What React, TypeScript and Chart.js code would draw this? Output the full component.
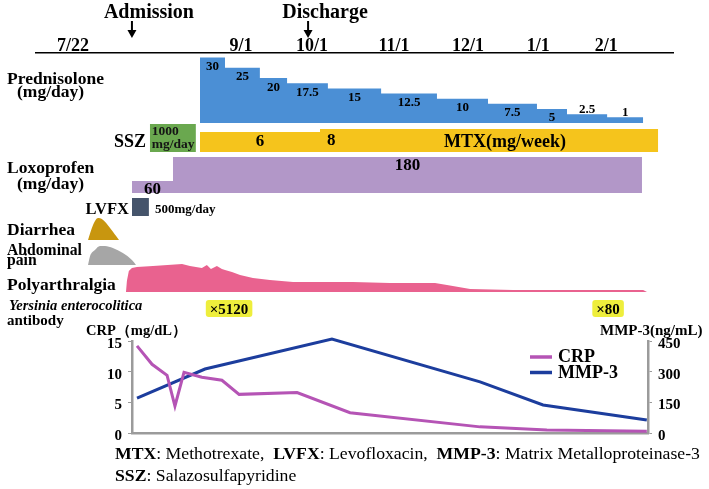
import React, { useEffect, useRef } from 'react';
import { Chart, registerables } from 'chart.js';

Chart.register(...registerables);

const SERIF = "'Liberation Serif', 'Times New Roman', Times, serif";

// ---------- timeline (schematic day index, 0 = admission) ----------
const dateTickLabels = ['7/22', '9/1', '10/1', '11/1', '12/1', '1/1', '2/1'];
const dateTickDays = [-24.7, 45.7, 75.4, 109.8, 140.8, 170.2, 198.7];
const eventLabels = ['Admission', 'Discharge'];
const eventDays = [0, 73.8];

// Prednisolone (mg/day)
const predStartDays = [28.5, 39, 53.6, 65, 82.1, 104.4, 127.8, 149.2, 169.7, 182.3, 199.1];
const predDoses = [30, 25, 20, 17.5, 15, 12.5, 10, 7.5, 5, 2.5, 1];
const predEndDay = 214.2;

// SSZ (mg/day)
const sszDays = [7.5, 26.8];
const sszDose = 1000;

// MTX (mg/week)
const mtxStartDays = [28.5, 78.8];
const mtxDoses = [6, 8];
const mtxEndDay = 220.5;

// Loxoprofen (mg/day)
const loxStartDays = [0, 17.2];
const loxDoses = [60, 180];
const loxEndDay = 213.7;

// LVFX (mg/day)
const lvfxDays = [0, 7.1];
const lvfxDose = 500;

// Symptoms (relative intensity 0-10)
const diarrheaDays = [-18.4, -16.3, -14.2, -12.6, -5.4];
const diarrheaLevel = [0, 6.8, 10, 9.5, 0];
const abdominalDays = [-18.4, -17.6, -15.5, -13.4, -11.3, -8.0, -3.8, 0, 1.7];
const abdominalLevel = [0, 4.5, 7.9, 10, 10, 8.9, 6.3, 2.6, 0];
const polyDays = [-2.5, -2.1, -1.3, 0, 2.1, 8.8, 21.0, 24.3, 29.3, 31.4, 33.1, 35.6, 37.7, 39.0, 41.9, 45.3, 50.7, 57.8, 67.5, 92.6, 108.1, 127.0, 132.0, 141.7, 159.7, 214.2, 215.8];
const polyLevel = [0, 4, 7.5, 8.6, 8.9, 9.3, 10, 9.3, 8.6, 9.6, 8.2, 9.3, 8.2, 7.9, 7.1, 6.1, 5.0, 4.3, 3.6, 3.6, 3.2, 3.2, 2.5, 1.1, 0.7, 0.7, 0];

// Yersinia enterocolitica antibody titers
const yersiniaDays = [40.7, 199.5];
const yersiniaTiters = ['×5120', '×80'];

// CRP / MMP-3
const crpDays = [2.1, 8.4, 14.7, 18.0, 21.8, 29.3, 37.7, 44.9, 69.2, 91.4, 145.9, 173.9, 215.8];
const crpValues = [14.2, 11.2, 9.4, 4.4, 9.9, 9.1, 8.6, 6.3, 6.6, 3.3, 1.0, 0.5, 0.3];
const mmpDays = [2.1, 30.6, 83.8, 145.9, 172.3, 215.8];
const mmpValues = [171, 313, 460, 250, 137, 64];
const crpTicks = [0, 5, 10, 15];
const mmpTicks = [0, 150, 300, 450];

// ---------- helpers ----------
const TOP_AREA_TOP = 53;
const TOP_AREA_BOTTOM = 320;
const PRED_BASE = -1.8;
const MTX_BASE = -7.33;

// hidden row axis: value baseValue sits at pixel basePx, pxPerUnit pixels per unit
function rowScale(basePx: number, baseValue: number, pxPerUnit: number) {
  const min = baseValue - (TOP_AREA_BOTTOM - basePx) / pxPerUnit;
  const max = min + (TOP_AREA_BOTTOM - TOP_AREA_TOP) / pxPerUnit;
  return { type: 'linear', display: false, min, max };
}
function stepPoints(starts: number[], values: number[], end: number) {
  const pts = starts.map((x, i) => ({ x, y: values[i] }));
  pts.push({ x: end, y: values[values.length - 1] });
  return pts;
}
function xy(xs: number[], ys: number[]) {
  return xs.map((x, i) => ({ x, y: ys[i] }));
}
function area(label: string, data: any[], color: string, yAxisID: string, extra: any = {}) {
  return {
    label, data, yAxisID,
    backgroundColor: color, borderColor: color, borderWidth: 0,
    pointRadius: 0, fill: 'origin', ...extra,
  };
}

const timelinePlugin = {
  id: 'timelineAnnotations',
  afterDraw(chart: any) {
    const { ctx } = chart;
    const xs = chart.scales.x;
    const px = (d: number) => xs.getPixelForValue(d);
    ctx.save();
    ctx.fillStyle = '#000';
    ctx.strokeStyle = '#000';
    ctx.textBaseline = 'alphabetic';

    // Admission / Discharge
    eventDays.forEach((d, i) => {
      const x = px(d);
      ctx.font = `bold 20px ${SERIF}`;
      ctx.textAlign = 'center';
      ctx.fillText(eventLabels[i], x + 17, 18);
      ctx.lineWidth = 2;
      ctx.beginPath(); ctx.moveTo(x, 21); ctx.lineTo(x, 31); ctx.stroke();
      ctx.beginPath(); ctx.moveTo(x - 4.5, 30); ctx.lineTo(x + 4.5, 30); ctx.lineTo(x, 38); ctx.closePath(); ctx.fill();
    });

    // Row labels
    const rows: [string, number, number, string, CanvasTextAlign][] = [
      ['Prednisolone', 7, 84, `bold 17.5px ${SERIF}`, 'left'],
      ['(mg/day)', 17, 97, `bold 17.5px ${SERIF}`, 'left'],
      ['SSZ', 146, 146.5, `bold 18px ${SERIF}`, 'right'],
      ['Loxoprofen', 7, 173, `bold 17.5px ${SERIF}`, 'left'],
      ['(mg/day)', 17, 189, `bold 17.5px ${SERIF}`, 'left'],
      ['LVFX', 129, 214, `bold 16.5px ${SERIF}`, 'right'],
      ['Diarrhea', 7, 235, `bold 17.5px ${SERIF}`, 'left'],
      ['Abdominal', 7, 254.5, `bold 15.7px ${SERIF}`, 'left'],
      ['pain', 7, 264.5, `bold 15.7px ${SERIF}`, 'left'],
      ['Polyarthralgia', 7, 290, `bold 17.5px ${SERIF}`, 'left'],
      ['Yersinia enterocolitica', 9, 310, `italic bold 14.5px ${SERIF}`, 'left'],
      ['antibody', 7, 325, `bold 15px ${SERIF}`, 'left'],
    ];
    rows.forEach(([t, x, y, f, a]) => { ctx.font = f; ctx.textAlign = a; ctx.fillText(t, x, y); });

    // Prednisolone doses
    const yP = chart.scales.yPred;
    ctx.font = `bold 13px ${SERIF}`;
    ctx.textAlign = 'center';
    predDoses.forEach((dose, i) => {
      const x0 = px(predStartDays[i]);
      const x1 = px(i + 1 < predStartDays.length ? predStartDays[i + 1] : predEndDay);
      const top = yP.getPixelForValue(dose);
      ctx.fillText(String(dose), (x0 + x1) / 2, dose >= 5 ? top + 12.5 : top - 1);
    });

    // SSZ
    const ySSZ = chart.scales.ySSZ;
    const sszTop = ySSZ.getPixelForValue(sszDose);
    ctx.font = `bold 13.5px ${SERIF}`;
    ctx.textAlign = 'left';
    ctx.fillStyle = '#151515';
    ctx.fillText(String(sszDose), px(sszDays[0]) + 2, sszTop + 11);
    ctx.fillText('mg/day', px(sszDays[0]) + 2, sszTop + 23.5);
    ctx.fillStyle = '#000';

    // MTX
    const yM = chart.scales.yMTX;
    const mtxBottom = yM.getPixelForValue(MTX_BASE);
    ctx.font = `bold 17px ${SERIF}`;
    mtxDoses.forEach((dose, i) => {
      const x0 = px(mtxStartDays[i]);
      const x1 = px(i + 1 < mtxStartDays.length ? mtxStartDays[i + 1] : mtxEndDay);
      if (i === 0) { ctx.textAlign = 'center'; ctx.fillText(String(dose), (x0 + x1) / 2, mtxBottom - 6); }
      else { ctx.textAlign = 'left'; ctx.fillText(String(dose), x0 + 7, mtxBottom - 7); }
    });
    ctx.font = `bold 18px ${SERIF}`;
    ctx.textAlign = 'center';
    ctx.fillText('MTX(mg/week)', px(156.3), mtxBottom - 5);

    // Loxoprofen
    const yL = chart.scales.yLox;
    ctx.font = `bold 17px ${SERIF}`;
    loxDoses.forEach((dose, i) => {
      const x0 = px(loxStartDays[i]);
      const x1 = px(i + 1 < loxStartDays.length ? loxStartDays[i + 1] : loxEndDay);
      ctx.fillText(String(dose), (x0 + x1) / 2, yL.getPixelForValue(dose) + 13);
    });

    // LVFX
    const yV = chart.scales.yLVFX;
    ctx.font = `bold 13px ${SERIF}`;
    ctx.textAlign = 'left';
    ctx.fillText(`${lvfxDose}mg/day`, px(lvfxDays[1]) + 6, yV.getPixelForValue(0) - 3);

    // Yersinia titers
    ctx.font = `bold 15px ${SERIF}`;
    yersiniaDays.forEach((d, i) => {
      const x = px(d);
      const t = yersiniaTiters[i];
      const w = ctx.measureText(t).width + 8;
      ctx.fillStyle = '#eeee3c';
      ctx.beginPath();
      if (ctx.roundRect) ctx.roundRect(x - w / 2, 300, w, 17, 3); else ctx.rect(x - w / 2, 300, w, 17);
      ctx.fill();
      ctx.fillStyle = '#000';
      ctx.textAlign = 'center';
      ctx.fillText(t, x, 313.5);
    });
    ctx.restore();
  },
};

const labPlugin = {
  id: 'labAnnotations',
  afterDraw(chart: any) {
    const { ctx } = chart;
    ctx.save();
    ctx.fillStyle = '#000';
    ctx.textBaseline = 'alphabetic';
    ctx.textAlign = 'left';
    ctx.font = `bold 14.5px ${SERIF}`;
    ctx.fillText('CRP（mg/dL）', 86, 10);
    ctx.font = `bold 15px ${SERIF}`;
    ctx.fillText('MMP-3(ng/mL)', 600, 10);
    chart.data.datasets.forEach((ds: any, i: number) => {
      const y = 32 + i * 15.5;
      ctx.strokeStyle = ds.borderColor;
      ctx.lineWidth = 3.5;
      ctx.beginPath(); ctx.moveTo(530, y); ctx.lineTo(552, y); ctx.stroke();
      ctx.font = `bold 18px ${SERIF}`;
      ctx.fillStyle = '#000';
      ctx.fillText(ds.label, 558, y + 5);
    });
    ctx.restore();
  },
};

export default function App() {
  const topRef = useRef<HTMLCanvasElement>(null);
  const botRef = useRef<HTMLCanvasElement>(null);

  useEffect(() => {
    document.body.style.margin = '0';
    const tickFont = { family: SERIF, size: 18, weight: 'bold' as const };

    const top = new Chart(topRef.current!, {
      type: 'line',
      data: {
        datasets: [
          area('Prednisolone', stepPoints(predStartDays, predDoses, predEndDay), '#4b8fd5', 'yPred', { stepped: 'before', fill: { value: PRED_BASE } }),
          area('SSZ', stepPoints([sszDays[0]], [sszDose], sszDays[1]), '#6aa84f', 'ySSZ', { stepped: 'before' }),
          area('MTX', stepPoints(mtxStartDays, mtxDoses, mtxEndDay), '#f5c41c', 'yMTX', { stepped: 'before', fill: { value: MTX_BASE } }),
          area('Loxoprofen', stepPoints(loxStartDays, loxDoses, loxEndDay), '#b297c8', 'yLox', { stepped: 'before' }),
          area('LVFX', stepPoints([lvfxDays[0]], [lvfxDose], lvfxDays[1]), '#45546b', 'yLVFX', { stepped: 'before' }),
          area('Diarrhea', xy(diarrheaDays, diarrheaLevel), '#c8960f', 'yDia', { cubicInterpolationMode: 'monotone' }),
          area('Abdominal pain', xy(abdominalDays, abdominalLevel), '#a6a6a6', 'yAbd', { cubicInterpolationMode: 'monotone' }),
          area('Polyarthralgia', xy(polyDays, polyLevel), '#e9628f', 'yPoly'),
        ] as any,
      },
      options: {
        responsive: false,
        animation: false,
        events: [],
        layout: { padding: { left: 36, right: 36, top: 0, bottom: 335 - TOP_AREA_BOTTOM } },
        plugins: { legend: { display: false }, tooltip: { enabled: false } },
        scales: {
          x: {
            type: 'linear', position: 'top', min: -40.2, max: 226.7,
            afterBuildTicks: (s: any) => { s.ticks = dateTickDays.map((v) => ({ value: v })); },
            afterFit: (s: any) => { s.height = TOP_AREA_TOP; },
            ticks: {
              autoSkip: false, maxRotation: 0, minRotation: 0, padding: -4, color: '#000', font: tickFont,
              callback: (_v: any, i: number) => dateTickLabels[i],
            },
            grid: { display: false, drawTicks: false },
            border: { display: true, color: '#000', width: 1.5 },
          },
          yPred: rowScale(123, PRED_BASE, 2.06) as any,
          ySSZ: rowScale(152, 0, 28 / sszDose) as any,
          yMTX: rowScale(152, MTX_BASE, 1.5) as any,
          yLox: rowScale(193, 0, 0.2) as any,
          yLVFX: rowScale(216, 0, 18 / lvfxDose) as any,
          yDia: rowScale(240, 0, 2.2) as any,
          yAbd: rowScale(265, 0, 1.9) as any,
          yPoly: rowScale(292, 0, 2.8) as any,
        },
      },
      plugins: [timelinePlugin],
    });

    const gray = '#9b9b9b';
    const labTickFont = { family: SERIF, size: 15, weight: 'bold' as const };
    const bot = new Chart(botRef.current!, {
      type: 'line',
      data: {
        datasets: [
          { label: 'CRP', data: xy(crpDays, crpValues), yAxisID: 'yCRP', borderColor: '#b554b5', backgroundColor: '#b554b5', borderWidth: 3, pointRadius: 0, tension: 0, clip: false },
          { label: 'MMP-3', data: xy(mmpDays, mmpValues), yAxisID: 'yMMP', borderColor: '#1c3d9d', backgroundColor: '#1c3d9d', borderWidth: 3, pointRadius: 0, tension: 0, clip: false },
        ] as any,
      },
      options: {
        responsive: false,
        animation: false,
        events: [],
        layout: { padding: { top: 16, left: 0, right: 0, bottom: 0 } },
        plugins: { legend: { display: false }, tooltip: { enabled: false } },
        scales: {
          x: {
            type: 'linear', min: 0, max: 216.3,
            ticks: { display: false },
            grid: { display: false, drawTicks: false },
            border: { display: true, color: gray, width: 2.5 },
            afterFit: (s: any) => { s.height = 56; },
          },
          yCRP: {
            type: 'linear', position: 'left', min: 0, max: 15,
            afterBuildTicks: (s: any) => { s.ticks = crpTicks.map((v) => ({ value: v })); },
            ticks: { color: '#000', font: labTickFont, padding: 6, labelOffset: 3 },
            grid: { display: true, drawOnChartArea: false, drawTicks: true, tickLength: 4, color: gray },
            border: { display: true, color: gray, width: 2.5 },
            afterFit: (s: any) => { s.width = 132; },
          },
          yMMP: {
            type: 'linear', position: 'right', min: 0, max: 450,
            afterBuildTicks: (s: any) => { s.ticks = mmpTicks.map((v) => ({ value: v })); },
            ticks: { color: '#000', font: labTickFont, padding: 6, labelOffset: 3 },
            grid: { display: true, drawOnChartArea: false, drawTicks: true, tickLength: 4, color: gray },
            border: { display: true, color: gray, width: 2.5 },
            afterFit: (s: any) => { s.width = 61; },
          },
        } as any,
      },
      plugins: [labPlugin],
    });

    return () => { top.destroy(); bot.destroy(); };
  }, []);

  return (
    <div style={{ position: 'relative', width: 709, height: 489, background: '#fff', overflow: 'hidden' }}>
      <canvas ref={topRef} width={709} height={335} style={{ position: 'absolute', left: 0, top: 0 }} />
      <canvas ref={botRef} width={709} height={164} style={{ position: 'absolute', left: 0, top: 325 }} />
      <div style={{ position: 'absolute', left: 115, top: 441.5, font: `17.7px/22.5px ${SERIF}`, whiteSpace: 'nowrap', color: '#000' }}>
        <b>MTX</b>: Methotrexate,&nbsp; <b>LVFX</b>: Levofloxacin,&nbsp; <b>MMP-3</b>: Matrix Metalloproteinase-3
        <br />
        <b>SSZ</b>: Salazosulfapyridine
      </div>
    </div>
  );
}
